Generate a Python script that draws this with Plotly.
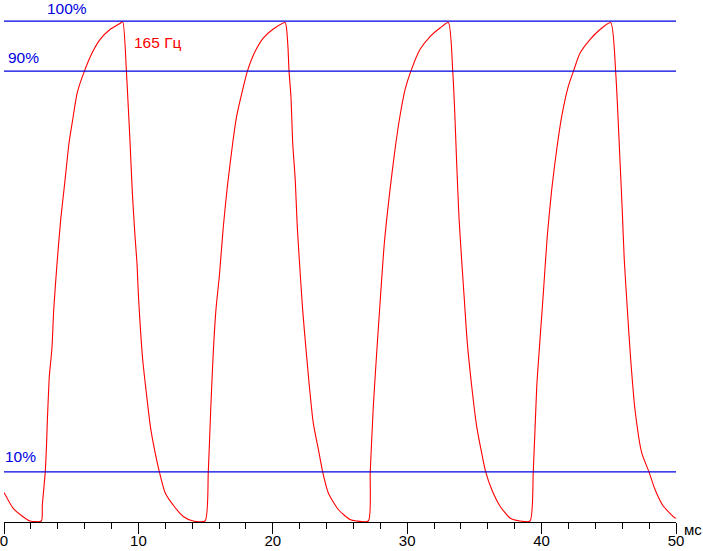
import plotly.graph_objects as go

# ---- data (time in ms, brightness in %) ----
cycle1_t = [0.00, 0.69, 1.44, 1.93, 2.78, 2.85, 3.07, 3.18, 3.22, 3.30, 3.37, 3.57, 3.70, 3.94,
            4.22, 4.52, 4.84, 5.11, 5.45, 5.97, 6.57, 7.14, 7.89, 8.63, 8.83, 9.11, 9.23, 9.38,
            9.55, 9.75, 9.90, 9.99, 10.14, 10.32, 10.59, 10.89, 11.24, 11.56, 11.98, 12.67,
            13.34, 14.08]
cycle1_v = [5.9, 2.7, 1.0, 0.2, 0.2, 3.3, 10.0, 16.5, 19.9, 25.0, 29.0, 34.8, 42.4, 51.4,
            60.4, 67.7, 75.7, 80.3, 85.7, 89.9, 93.7, 96.3, 98.3, 99.5, 99.9, 89.9, 83.7, 75.7,
            65.7, 57.0, 51.4, 45.8, 39.0, 32.4, 25.8, 19.1, 13.9, 10.0, 5.9, 3.1,
            1.1, 0.2]

cycle2_t = [14.96, 15.20, 15.38, 15.57, 15.77, 16.02, 16.32, 16.62, 17.02, 17.31, 17.76, 18.10,
            18.68, 19.29, 20.04, 20.91, 21.11, 21.21, 21.35, 21.48, 21.67, 21.82, 22.02, 22.22,
            22.45, 22.72, 23.01, 23.39, 23.71, 24.13, 24.87, 25.74, 26.24]
cycle2_v = [0.2, 10.0, 22.4, 33.8, 42.4, 49.0, 59.0, 67.0, 75.7, 81.0, 86.3, 89.9,
            93.9, 96.6, 98.4, 99.7, 95.6, 89.9, 85.0, 75.7, 68.3, 59.0, 50.4, 42.4,
            35.1, 27.1, 19.8, 14.5, 10.0, 5.8, 2.5, 0.5, 0.2]

cycle3_t = [27.11, 27.25, 27.48, 27.73, 27.98, 28.30, 28.72, 29.09, 29.46, 29.84, 30.26, 30.95,
            31.70, 32.44, 33.06, 33.39, 33.53, 33.68, 33.85, 34.05, 34.25, 34.47, 34.80, 35.17,
            35.54, 35.84, 36.29, 36.90, 37.65, 38.39]
cycle3_v = [0.2, 10.0, 23.1, 33.8, 43.7, 55.7, 66.3, 74.3, 81.0, 86.3, 89.9, 94.3,
            96.9, 98.6, 99.7, 89.9, 82.3, 71.7, 61.0, 52.4, 44.4, 35.8, 27.1, 19.1,
            13.8, 10.0, 6.5, 3.2, 0.8, 0.2]

cycle4_t = [39.14, 39.38, 39.64, 39.88, 40.13, 40.42, 40.75, 41.12, 41.50, 41.99, 42.36, 42.86,
            43.60, 44.35, 45.14, 45.51, 45.66, 45.83, 46.00, 46.15, 46.38, 46.63, 46.95, 47.45,
            47.99, 48.44, 49.05, 49.93, 50.00]
cycle4_v = [0.2, 10.0, 27.1, 36.4, 45.7, 57.0, 66.3, 74.3, 81.0, 87.0, 89.9, 93.6,
            96.3, 98.3, 99.7, 89.9, 82.3, 72.3, 62.3, 52.4, 42.4, 32.4, 22.4, 13.8,
            10.0, 6.5, 3.2, 0.8, 0.8]

level_values = [10, 90, 100]
level_labels = ["10%", "90%", "100%"]
x_tick_values = [0, 10, 20, 30, 40, 50]
series_label = "165 Гц"
x_unit_label = "мс"

time_ms = cycle1_t + cycle2_t + cycle3_t + cycle4_t
brightness = cycle1_v + cycle2_v + cycle3_v + cycle4_v

FONT = "Liberation Sans, Arial, sans-serif"
BLUE = "#0000e0"
LABEL_SIZE = 15.5

fig = go.Figure()
fig.add_trace(go.Scatter(x=time_ms, y=brightness, mode="lines",
                         line=dict(color="#ff0000", width=1.1, shape="spline", smoothing=0.6),
                         hoverinfo="skip", showlegend=False))

for lv in level_values:
    fig.add_shape(type="line", xref="x", yref="y", x0=0, x1=50, y0=lv, y1=lv,
                  line=dict(color=BLUE, width=1.2), layer="above")

# level labels (positions in data units)
label_pos = {"100%": (3.2, 102.6), "90%": (0.33, 92.8), "10%": (0.1, 13.1)}
for lab in level_labels:
    px, py = label_pos[lab]
    fig.add_annotation(x=px, y=py, xref="x", yref="y", text=lab, showarrow=False,
                       xanchor="left", yanchor="middle", borderpad=0, borderwidth=0,
                       font=dict(family=FONT, size=LABEL_SIZE, color=BLUE))

fig.add_annotation(x=9.7, y=95.7, xref="x", yref="y", text=series_label, showarrow=False,
                   xanchor="left", yanchor="middle", borderpad=0, borderwidth=0,
                   font=dict(family=FONT, size=LABEL_SIZE, color="#ff0000"))
fig.add_annotation(x=1.0125, y=-0.014, xref="paper", yref="paper", text=x_unit_label,
                   showarrow=False, xanchor="left", yanchor="middle", borderpad=0, borderwidth=0,
                   font=dict(family=FONT, size=15, color="#000000"))

fig.update_layout(
    width=703, height=551,
    margin=dict(l=4, r=27, t=1, b=29, pad=0, autoexpand=False),
    paper_bgcolor="white", plot_bgcolor="white",
    font=dict(family=FONT, size=14, color="black"),
    showlegend=False,
    xaxis=dict(range=[0, 50], tickvals=x_tick_values, ticktext=[str(v) for v in x_tick_values],
               showgrid=False, zeroline=False, showline=True, linecolor="black", linewidth=1,
               ticks="outside", ticklen=11, tickwidth=1, tickcolor="black",
               tickfont=dict(family=FONT, size=15, color="black"), automargin=False,
               ticklabeloverflow="allow", ticklabelstandoff=-6,
               minor=dict(dtick=2, ticks="outside", ticklen=6, tickwidth=1, tickcolor="black",
                          showgrid=False),
               layer="below traces", fixedrange=True),
    yaxis=dict(range=[0, 104], visible=False, showgrid=False, zeroline=False, fixedrange=True,
               automargin=False),
)

fig.write_html("out.html", config={"displayModeBar": False},
               post_script="document.body.style.margin='0';document.body.style.overflow='hidden';")
